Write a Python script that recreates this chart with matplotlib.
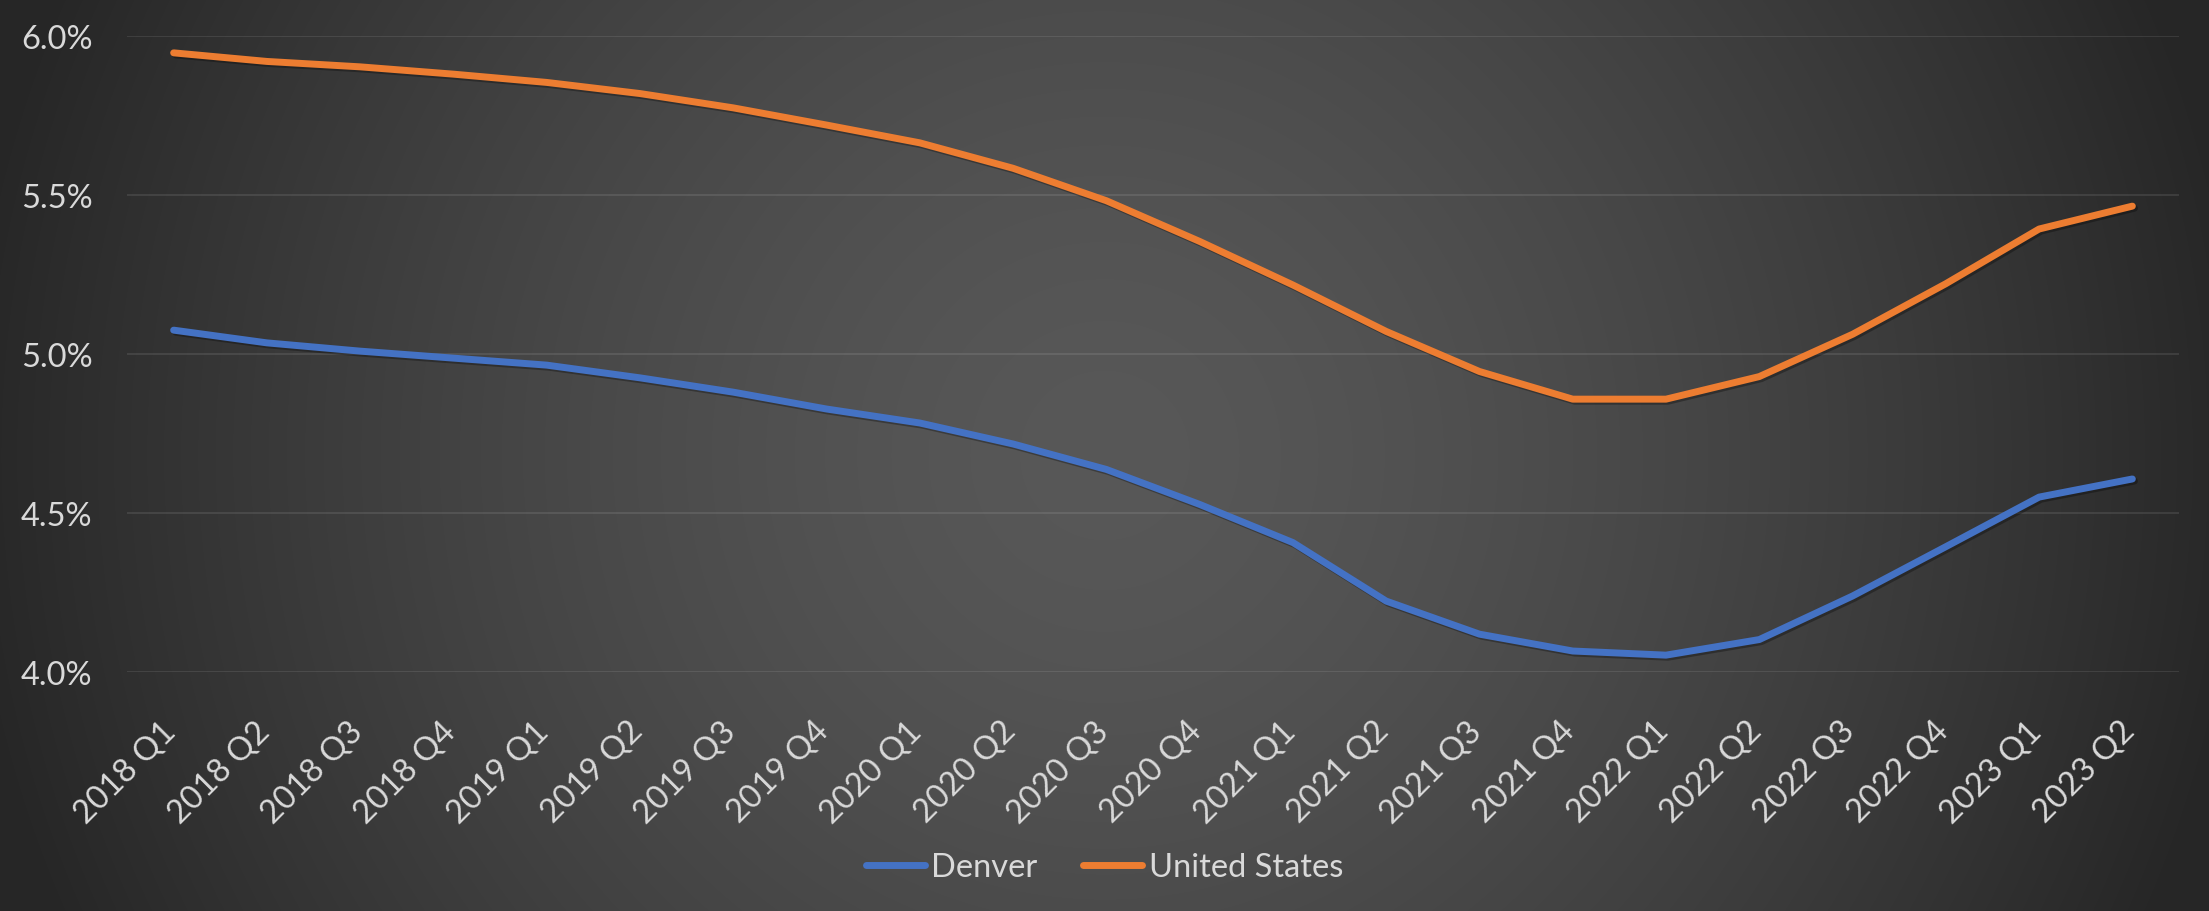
import numpy as np
import matplotlib
matplotlib.use("Agg")
import matplotlib.pyplot as plt
import matplotlib.patheffects as pe
import matplotlib.transforms as mtransforms
from matplotlib.ticker import FuncFormatter

plt.rcParams['font.family'] = ['Lato', 'DejaVu Sans']

quarters = ["2018 Q1", "2018 Q2", "2018 Q3", "2018 Q4",
            "2019 Q1", "2019 Q2", "2019 Q3", "2019 Q4",
            "2020 Q1", "2020 Q2", "2020 Q3", "2020 Q4",
            "2021 Q1", "2021 Q2", "2021 Q3", "2021 Q4",
            "2022 Q1", "2022 Q2", "2022 Q3", "2022 Q4",
            "2023 Q1", "2023 Q2"]
denver = [5.075, 5.035, 5.009, 4.987, 4.965, 4.925, 4.880, 4.827,
          4.783, 4.717, 4.637, 4.527, 4.407, 4.223, 4.119, 4.066,
          4.053, 4.102, 4.239, 4.394, 4.550, 4.607]
united_states = [5.947, 5.920, 5.903, 5.880, 5.854, 5.819, 5.774, 5.720,
                 5.664, 5.584, 5.482, 5.354, 5.217, 5.071, 4.945, 4.858,
                 4.858, 4.929, 5.062, 5.221, 5.393, 5.465]
yticks = [4.0, 4.5, 5.0, 5.5, 6.0]

text_col = "#d9d9d9"
fs = 23.5
W, H = 2209, 912
fig = plt.figure(figsize=(W / 100, H / 100), dpi=100)

# radial gradient background, light in the middle, dark at the edges
bg = fig.add_axes([0, 0, 1, 1], zorder=-10)
yy, xx = np.mgrid[0:H, 0:W]
d = np.sqrt((xx - W / 2) ** 2 + (yy - H / 2) ** 2) / 1150.0
c = np.clip(88 - 50 * d ** 1.5, 38, 88) / 255.0
bg.imshow(np.dstack([c, c, c]), aspect='auto', extent=[0, 1, 0, 1], interpolation='bilinear')
bg.axis('off')

ax = fig.add_axes([127 / W, 1 - 673 / H, (2179 - 127) / W, (673 - 37) / H])
ax.set_facecolor('none')

x = np.arange(len(quarters))
shadow = [pe.SimpleLineShadow(offset=(1.5, -1.5), alpha=0.3, shadow_color='black'), pe.Normal()]
ax.plot(x, denver, color="#4472c4", lw=5, solid_capstyle='round', solid_joinstyle='round',
        label="Denver", path_effects=shadow)
ax.plot(x, united_states, color="#ed7d31", lw=5, solid_capstyle='round', solid_joinstyle='round',
        label="United States", path_effects=shadow)

ax.set_xlim(-0.5, len(quarters) - 0.5)
ax.set_ylim(4.0, 6.0)
ax.set_yticks(yticks)
ax.yaxis.set_major_formatter(FuncFormatter(lambda v, p: f"{v:.1f}%"))
ax.grid(axis='y', color='white', alpha=0.1, lw=1.3)
ax.set_axisbelow(True)
for s in ax.spines.values():
    s.set_visible(False)

ax.set_xticks(x)
ax.set_xticklabels(quarters, rotation=45, ha='right', va='top')
ax.tick_params(axis='x', length=0, pad=31, labelsize=fs, labelcolor=text_col)
ax.tick_params(axis='y', length=0, pad=25, labelsize=fs, labelcolor=text_col)
offset = mtransforms.ScaledTranslation(8 / 100, 0, fig.dpi_scale_trans)
for lab in ax.get_xticklabels():
    lab.set_transform(lab.get_transform() + offset)

leg = fig.legend(loc='center', bbox_to_anchor=(0.5, 1 - 868 / H), ncol=2, frameon=False,
                 fontsize=fs, handlelength=1.8, handletextpad=0.2, columnspacing=1.4)
for t in leg.get_texts():
    t.set_color(text_col)
for h in leg.get_lines():
    h.set_path_effects([])

fig.savefig("out.png", dpi=100)
